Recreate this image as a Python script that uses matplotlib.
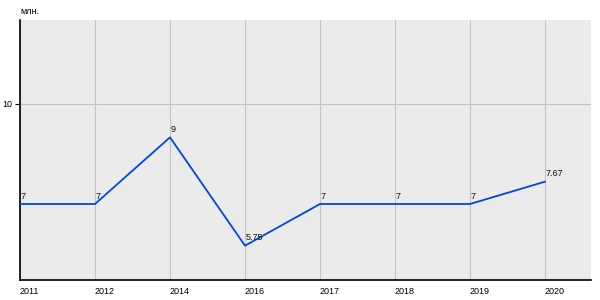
import numpy as np
import matplotlib.pyplot as plt

plt.rcParams['font.family'] = ['Liberation Sans', 'DejaVu Sans']

years = ['2011', '2012', '2014', '2016', '2017', '2018', '2019', '2020']
values = [7, 7, 9, 5.75, 7, 7, 7, 7.67]
value_labels = ['7', '7', '9', '5.75', '7', '7', '7', '7.67']

fig = plt.figure(figsize=(6, 3), dpi=100)
ax = fig.add_axes([20/600, 20/300, 571/600, 260/300])
ax.set_facecolor('#ebebeb')

x = np.arange(len(years))
ax.plot(x, values, color='#0046e6', linewidth=1.3, zorder=3)

for xi, v, lab in zip(x, values, value_labels):
    ax.annotate(lab, (xi, v), xytext=(0.5, 2.5), textcoords='offset points',
                fontsize=6.5, ha='left', va='bottom', color='#111111', zorder=4)

ax.set_xlim(0, 7 + 46/75)
ax.set_ylim(4.72, 12.52)

ax.set_xticks(x)
ax.set_xticklabels(years, fontsize=6.5, ha='left')
ax.set_yticks([10])
ax.set_yticklabels(['10'], fontsize=6.5)
ax.tick_params(axis='x', length=0, pad=5)
ax.tick_params(axis='y', length=3.5, width=0.8, pad=2)

ax.grid(True, color='#c4c4c4', linewidth=0.8, zorder=0)
ax.set_axisbelow(True)
for s in ['top', 'right']:
    ax.spines[s].set_visible(False)
for s in ['left', 'bottom']:
    ax.spines[s].set_linewidth(1.2)
    ax.spines[s].set_color('black')

fig.text(20/600, 1 - 12/300, 'млн.', fontsize=6.5, ha='left', va='center')

fig.savefig('out.png', dpi=100)
